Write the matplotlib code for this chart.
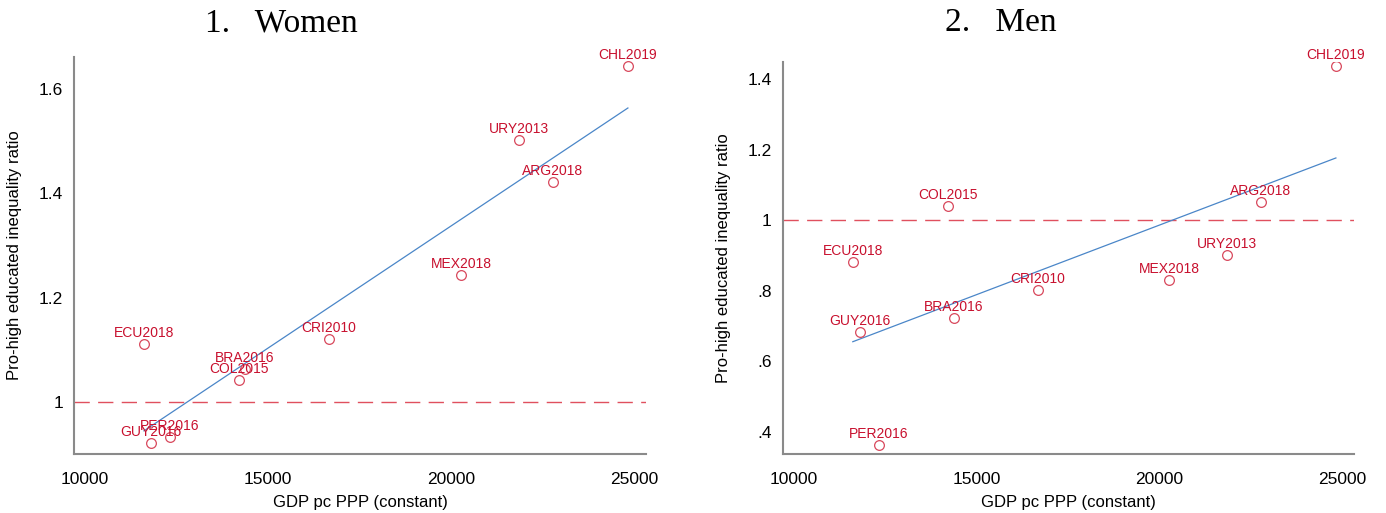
import matplotlib
matplotlib.use("Agg")
import matplotlib.pyplot as plt
from matplotlib.ticker import FuncFormatter
import numpy as np

plt.rcParams['font.family'] = ['Liberation Sans', 'DejaVu Sans']

# country-year labels
countries = ["CHL2019", "URY2013", "ARG2018", "MEX2018", "CRI2010",
             "ECU2018", "BRA2016", "COL2015", "GUY2016", "PER2016"]
# GDP pc PPP (constant)
gdp = [24835, 21850, 22785, 20280, 16670, 11612, 14375, 14210, 11805, 12325]

# pro-high educated inequality ratio
women = [1.644, 1.502, 1.422, 1.243, 1.121, 1.111, 1.063, 1.042, 0.921, 0.933]
men = [1.437, 0.901, 1.051, 0.830, 0.802, 0.881, 0.722, 1.040, 0.683, 0.363]

women_yticks = [1.0, 1.2, 1.4, 1.6]
men_yticks = [0.4, 0.6, 0.8, 1.0, 1.2, 1.4]
xticks = [10000, 15000, 20000, 25000]

RED = '#c8102e'
BLUE = '#4a86c8'


def fmt(v, pos):
    s = ('%.1f' % v).rstrip('0').rstrip('.')
    if s.startswith('0.'):
        s = s[1:]
    return s


def panel(ax, y, yticks, ylim):
    x = np.array(gdp)
    y = np.array(y)
    ax.axhline(1, color='#e0505e', lw=1.0, dashes=(11, 6), zorder=1)
    # linear fit line over the data range
    b, a = np.polyfit(x, y, 1)
    xs = np.array([x.min(), x.max()])
    ax.plot(xs, a + b * xs, color=BLUE, lw=0.9, zorder=2)
    ax.plot(x, y, 'o', mfc='white', mec='#d8485c', mew=0.9, ms=7, zorder=3)
    for lab, xi, yi in zip(countries, x, y):
        ax.annotate(lab, (xi, yi), xytext=(0, 3), textcoords='offset points',
                    ha='center', va='bottom', color=RED, fontsize=10,
                    annotation_clip=False, zorder=4)
    ax.set_xlim(9700, 25330)
    ax.set_ylim(*ylim)
    ax.set_xticks(xticks)
    ax.set_yticks(yticks)
    ax.yaxis.set_major_formatter(FuncFormatter(fmt))
    ax.tick_params(length=0, labelsize=12.5, pad=8)
    ax.tick_params(axis='x', pad=13)
    for s in ['top', 'right']:
        ax.spines[s].set_visible(False)
    for s in ['left', 'bottom']:
        ax.spines[s].set_color('#8a8a8a')
        ax.spines[s].set_linewidth(1.5)
    ax.set_xlabel('GDP pc PPP (constant)', fontsize=12, labelpad=6)
    ax.set_ylabel('Pro-high educated inequality ratio', fontsize=12, labelpad=12)


fig = plt.figure(figsize=(13.86, 5.13), dpi=100)
ax1 = fig.add_axes([0.0534, 0.115, 0.4127, 0.774])
ax2 = fig.add_axes([0.5649, 0.115, 0.4120, 0.764])

panel(ax1, women, women_yticks, (0.9003, 1.661))
panel(ax2, men, men_yticks, (0.338, 1.448))

fig.text(0.203, 0.955, '1.   Women', family='Liberation Serif', fontsize=24,
         ha='center', va='center')
fig.text(0.722, 0.955, '2.   Men', family='Liberation Serif', fontsize=24,
         ha='center', va='center')

fig.savefig('out.png', dpi=100)
